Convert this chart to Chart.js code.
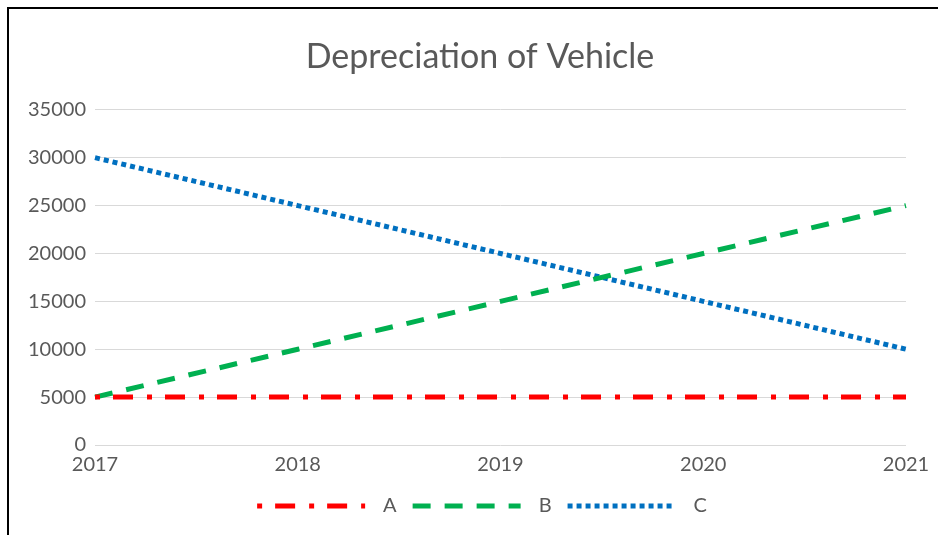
<!DOCTYPE html>
<html>
<head>
<meta charset="utf-8">
<script src="https://cdn.jsdelivr.net/npm/chart.js@4"></script>
<style>
  html, body { margin: 0; padding: 0; background: #fff; overflow: hidden; }
  #frame {
    position: absolute; left: 7px; top: 7px;
    width: 960px; height: 600px;
    border: 2px solid #000;
  }
  #box { position: absolute; left: 0; top: 0; width: 942px; height: 526px; }
</style>
</head>
<body>
<div id="frame">
  <div id="box"><canvas id="myChart"></canvas></div>
</div>
<script>
  const years = ['2017', '2018', '2019', '2020', '2021'];
  const seriesA = [5000, 5000, 5000, 5000, 5000];
  const seriesB = [5000, 10000, 15000, 20000, 25000];
  const seriesC = [30000, 25000, 20000, 15000, 10000];

  const textColor = '#595959';
  const fontName = 'Lato, "Open Sans", sans-serif';

  const data = {
    labels: years,
    datasets: [{
      label: 'A',
      data: seriesA,
      borderColor: '#ff0000',
      backgroundColor: '#ff0000',
      borderWidth: 5,
      borderDash: [5, 13, 20, 14],
      borderCapStyle: 'butt',
      pointRadius: 0,
      tension: 0
    }, {
      label: 'B',
      data: seriesB,
      borderColor: '#00b050',
      backgroundColor: '#00b050',
      borderWidth: 5,
      borderDash: [18, 14],
      borderCapStyle: 'butt',
      pointRadius: 0,
      tension: 0
    }, {
      label: 'C',
      data: seriesC,
      borderColor: '#0070c0',
      backgroundColor: '#0070c0',
      borderWidth: 5,
      borderDash: [5, 4],
      borderCapStyle: 'butt',
      pointRadius: 0,
      tension: 0
    }]
  };

  // legend sample: the dashed line, with some blank room around it
  const sampleW = 120, lineFrom = 4, lineTo = 112;
  function legendSample(ds) {
    const c = document.createElement('canvas');
    c.width = sampleW;
    c.height = 10;
    const g = c.getContext('2d');
    g.strokeStyle = ds.borderColor;
    g.lineWidth = ds.borderWidth;
    g.setLineDash(ds.borderDash);
    g.beginPath();
    g.moveTo(lineFrom, 5);
    g.lineTo(lineTo, 5);
    g.stroke();
    return c;
  }

  const config = {
    type: 'line',
    data: data,
    options: {
      responsive: true,
      maintainAspectRatio: false,
      animation: false,
      layout: { padding: { left: 0, right: 0, top: 28, bottom: 9 } },
      plugins: {
        title: {
          display: true,
          text: 'Depreciation of Vehicle',
          color: textColor,
          font: { family: fontName, size: 34, weight: 'normal' },
          padding: { top: 0, bottom: 32 }
        },
        legend: {
          position: 'bottom',
          labels: {
            usePointStyle: true,
            pointStyleWidth: sampleW,
            color: textColor,
            font: { family: fontName, size: 20 },
            padding: 12,
            generateLabels: function (chart) {
              return chart.data.datasets.map(function (ds, i) {
                return {
                  text: ds.label,
                  datasetIndex: i,
                  fillStyle: ds.borderColor,
                  strokeStyle: ds.borderColor,
                  lineWidth: 0,
                  pointStyle: legendSample(ds),
                  fontColor: textColor,
                  hidden: !chart.isDatasetVisible(i)
                };
              });
            }
          }
        },
        tooltip: { enabled: false }
      },
      scales: {
        x: {
          grid: { display: false, drawTicks: false },
          border: { display: false },
          ticks: {
            color: textColor,
            font: { family: fontName, size: 20 },
            padding: 8,
            maxRotation: 0
          },
          afterFit: function (scale) { scale.height -= 1; }
        },
        y: {
          min: 0,
          max: 35000,
          grid: { color: '#d9d9d9', lineWidth: 1, drawTicks: false },
          border: { display: false },
          ticks: {
            stepSize: 5000,
            color: textColor,
            font: { family: fontName, size: 20 },
            padding: 9,
            callback: function (v) { return String(v); }
          },
          afterFit: function (scale) { scale.width = 86; }
        },
        // empty right-hand strip so title and legend stay centred
        yRight: {
          position: 'right',
          grid: { display: false, drawTicks: false },
          border: { display: false },
          ticks: { display: false },
          afterFit: function (scale) { scale.width = 45; }
        }
      }
    }
  };

  const myChart = new Chart(document.getElementById('myChart'), config);
</script>
</body>
</html>
